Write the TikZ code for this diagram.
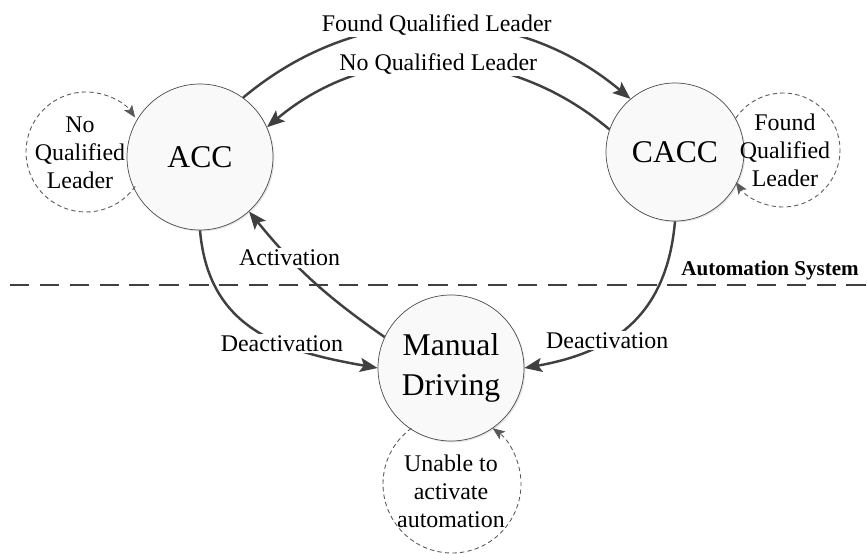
\documentclass[tikz,border=0pt]{standalone}
\usepackage{fontspec}
\setmainfont{Liberation Serif}
\usetikzlibrary{arrows.meta}
\usetikzlibrary{shadows}

\begin{document}
\begin{tikzpicture}[
  state/.style={shape=circle, draw=black!70, thin, fill=gray!5, minimum size=2.92cm, inner sep=0pt, align=center,
    font=\fontsize{18}{22.8}\selectfont, drop shadow={opacity=0.2, shadow xshift=0.8pt, shadow yshift=-0.8pt}},
  lbl/.style={fill=white, inner sep=1pt, font=\fontsize{13.6}{16}\selectfont},
  looptext/.style={align=center, font=\fontsize{13.6}{16}\selectfont},
  trans/.style={draw=black!75, line width=1.4pt, -{Stealth[length=10pt,width=8pt,inset=2pt]}},
  loopline/.style={draw=black!65, dash pattern=on 2.5pt off 1.8pt, line width=0.5pt, -{Stealth[length=7pt,width=5.5pt,inset=1.5pt]}},
  divider/.style={draw=black!75, line width=1.4pt, dash pattern=on 11pt off 6pt}
]
\useasboundingbox (0,0) rectangle (17.34,-11.08);

% system boundary
\coordinate (divl) at (0.2,-5.7);
\coordinate (divr) at (17.34,-5.7);
\draw[divider] (divl) -- (divr);
\node[anchor=east, font=\fontsize{12}{14}\selectfont\bfseries] (autosys) at (17.3,-5.4) {Automation System};

% states
\node[state] (acc) at (4.0,-3.14) {ACC};
\node[state, minimum size=2.76cm] (cacc) at (13.5,-3.04) {CACC};
\node[state] (manual) at (9.02,-7.36) {Manual\\Driving};

% self loops
\node[looptext] (accloop) at (1.6,-3.06) {No\\Qualified\\Leader};
\node[looptext] (caccloop) at (15.7,-3.0) {Found\\Qualified\\Leader};
\node[looptext] (manualloop) at (9.02,-9.82) {Unable to\\activate\\automation};
\draw[loopline] (accloop) ++(0.12,0.02) ++(-35:1.2) arc[start angle=-35, end angle=-325, radius=1.2];
\draw[loopline] (caccloop) ++(-0.04,0) ++(146:1.14) arc[start angle=146, end angle=-146, radius=1.14];
\draw[loopline] (manualloop) ++(0.02,0.14) ++(126:1.38) arc[start angle=126, end angle=414, radius=1.38];

% transitions
\draw[trans] (acc.54) to[out=40, in=140] node[lbl] {Found Qualified Leader} (cacc.130);
\draw[trans] (cacc.161) to[out=140, in=40] node[lbl] {No Qualified Leader} (acc.24);
\draw[trans] (manual.155) to[bend left=8] node[lbl, pos=0.68] {Activation} (acc.-48);
\draw[trans] (acc.-90) to[out=-85, in=170, looseness=1.13] node[lbl, pos=0.63] {Deactivation} (manual.180);
\draw[trans] (cacc.-90) to[out=-95, in=10, looseness=1.13] node[lbl, pos=0.64] {Deactivation} (manual.0);
\end{tikzpicture}
\end{document}
